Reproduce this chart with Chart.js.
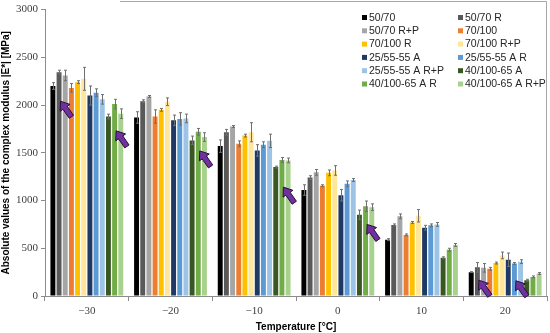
<!DOCTYPE html>
<html>
<head>
<meta charset="utf-8">
<script src="https://cdn.jsdelivr.net/npm/chart.js@4.4.0/dist/chart.umd.min.js"></script>
<style>
  html, body { margin: 0; padding: 0; background: #fff; }
  #wrap { width: 550px; height: 333px; position: relative; }
</style>
</head>
<body>
<div id="wrap"><canvas id="modulusChart" width="550" height="333"></canvas></div>
<script>
// temperatures
const temps = ['\u221230', '\u221220', '\u221210', '0', '10', '20'];

// |E*| values [MPa] per binder
const b5070 = [2200, 1870, 1570, 1110, 590, 250];
const b5070R = [2345, 2040, 1715, 1240, 745, 300];
const b5070RP = [2310, 2090, 1775, 1295, 835, 295];
const b70100 = [2180, 1880, 1595, 1155, 640, 285];
const b70100R = [2240, 1950, 1680, 1290, 770, 345];
const b70100RP = [2275, 2035, 1715, 1315, 840, 425];
const b2555A = [2100, 1840, 1525, 1055, 715, 380];
const b2555AR = [2130, 1855, 1585, 1175, 740, 340];
const b2555ARP = [2060, 1860, 1625, 1215, 750, 360];
const b40100A = [1880, 1630, 1350, 850, 400, 165];
const b40100AR = [2010, 1720, 1425, 940, 485, 200];
const b40100ARP = [1910, 1665, 1420, 930, 535, 235];

// standard deviations (error bars)
const e5070 = [35, 60, 65, 55, 10, 5];
const e5070R = [20, 15, 30, 20, 10, 50];
const e5070RP = [55, 10, 10, 30, 25, 45];
const e70100 = [45, 70, 30, 10, 10, 15];
const e70100R = [15, 15, 15, 30, 10, 10];
const e70100RP = [120, 40, 100, 50, 65, 35];
const e2555A = [100, 55, 60, 60, 25, 70];
const e2555AR = [40, 65, 30, 30, 15, 10];
const e2555ARP = [50, 45, 70, 15, 20, 20];
const e40100A = [25, 45, 10, 50, 10, 10];
const e40100AR = [50, 35, 25, 55, 15, 10];
const e40100ARP = [50, 45, 25, 35, 15, 10];

const binderNames = ['50/70', '50/70 R', '50/70 R+P', '70/100', '70/100 R', '70/100 R+P',
  '25/55-55 A', '25/55-55 A R', '25/55-55 A R+P', '40/100-65 A', '40/100-65 A R', '40/100-65 A R+P'];
const binderColors = ['#000000', '#595959', '#a5a5a5', '#ed7d31', '#ffc000', '#ffe699',
  '#203864', '#5b9bd5', '#9dc3e6', '#385723', '#70ad47', '#a9d18e'];
const binderValues = [b5070, b5070R, b5070RP, b70100, b70100R, b70100RP,
  b2555A, b2555AR, b2555ARP, b40100A, b40100AR, b40100ARP];
const binderErrors = [e5070, e5070R, e5070RP, e70100, e70100R, e70100RP,
  e2555A, e2555AR, e2555ARP, e40100A, e40100AR, e40100ARP];

// purple arrows: category index, binder index, value at the arrow tip
const arrowCat = [0, 0, 1, 2, 3, 5, 5];
const arrowSeries = [1, 10, 10, 10, 10, 1, 7];
const arrowValue = [2040, 1730, 1520, 1140, 750, 165, 160];

const sansFont = "'Liberation Sans', Arial, sans-serif";
const serifFont = "'Liberation Serif', 'Times New Roman', serif";

// error bars
const errorBars = {
    id: 'errorBars',
    afterDatasetsDraw(chart) {
        const ctx = chart.ctx;
        const y = chart.scales.y;
        ctx.save();
        ctx.strokeStyle = '#6f6f6f';
        ctx.lineWidth = 1;
        chart.data.datasets.forEach(function(ds, i) {
            const meta = chart.getDatasetMeta(i);
            meta.data.forEach(function(bar, j) {
                const v = ds.data[j], e = binderErrors[i][j];
                const x = Math.round(bar.x) + 0.5;
                const top = y.getPixelForValue(v + e), bot = y.getPixelForValue(v - e);
                ctx.beginPath();
                ctx.moveTo(x, top); ctx.lineTo(x, bot);
                ctx.moveTo(x - 1.5, top); ctx.lineTo(x + 1.5, top);
                ctx.moveTo(x - 1.5, bot); ctx.lineTo(x + 1.5, bot);
                ctx.stroke();
            });
        });
        ctx.restore();
    }
};

// arrows, frame and legend
const extras = {
    id: 'extras',
    afterDraw(chart) {
        const ctx = chart.ctx;
        const y = chart.scales.y;
        const area = chart.chartArea;
        ctx.save();

        // outer frame (top / right)
        ctx.strokeStyle = '#a6a6a6';
        ctx.lineWidth = 1;
        ctx.beginPath();
        ctx.moveTo(120, 1.5); ctx.lineTo(546.5, 1.5); ctx.lineTo(546.5, area.bottom);
        ctx.stroke();

        // arrows
        const ux = 0.57, uy = 0.82, vx = -uy, vy = ux;
        for (let k = 0; k < arrowCat.length; k++) {
            const bar = chart.getDatasetMeta(arrowSeries[k]).data[arrowCat[k]];
            const tx = bar.x + 1.5, ty = y.getPixelForValue(arrowValue[k]);
            const pts = [[0, 0], [8, 6], [8, 2.6], [19, 2.6], [19, -2.6], [8, -2.6], [8, -6]];
            ctx.beginPath();
            pts.forEach(function(p, n) {
                const px = tx + ux * p[0] + vx * p[1];
                const py = ty + uy * p[0] + vy * p[1];
                if (n === 0) ctx.moveTo(px, py); else ctx.lineTo(px, py);
            });
            ctx.closePath();
            ctx.fillStyle = '#7030a0';
            ctx.fill();
            ctx.strokeStyle = '#26103a';
            ctx.lineWidth = 1;
            ctx.stroke();
        }

        // legend, two columns
        ctx.font = '10.5px ' + sansFont;
        ctx.textBaseline = 'middle';
        binderNames.forEach(function(name, i) {
            const col = i % 2, row = Math.floor(i / 2);
            const bx = col === 0 ? 362 : 458;
            const by = 17.5 + row * 13.3;
            ctx.fillStyle = binderColors[i];
            ctx.fillRect(bx, by - 2.5, 5, 5);
            ctx.fillStyle = '#262626';
            ctx.fillText(name, bx + 7, by + 0.5);
        });
        ctx.restore();
    }
};

new Chart(document.getElementById('modulusChart'), {
    type: 'bar',
    data: {
        labels: temps,
        datasets: binderNames.map(function(name, i) {
            return {
                label: name,
                data: binderValues[i],
                backgroundColor: binderColors[i],
                borderWidth: 0,
                categoryPercentage: 0.885,
                barPercentage: 0.8
            };
        })
    },
    options: {
        responsive: false,
        animation: false,
        layout: { padding: { top: 8, right: 3, left: 0, bottom: 0 } },
        plugins: {
            legend: { display: false },
            tooltip: { enabled: false }
        },
        scales: {
            y: {
                min: 0,
                max: 3000,
                ticks: {
                    stepSize: 500,
                    color: '#404040',
                    font: { family: serifFont, size: 11 },
                    padding: 3,
                    callback: function(v) { return String(v); }
                },
                grid: { drawOnChartArea: false, drawTicks: true, tickLength: 4, color: '#8c8c8c' },
                border: { color: '#8c8c8c' },
                title: {
                    display: true,
                    text: 'Absolute values of the complex modulus |E*| [MPa]',
                    color: '#000',
                    font: { family: sansFont, size: 10, weight: 'bold' },
                    padding: { top: 0, bottom: 2 }
                },
                afterFit: function(scale) { scale.width = 45; }
            },
            x: {
                ticks: { color: '#404040', font: { family: serifFont, size: 11 }, padding: 4 },
                grid: { offset: true, drawOnChartArea: false, drawTicks: true, tickLength: 5, color: '#8c8c8c' },
                border: { color: '#8c8c8c' },
                title: {
                    display: true,
                    text: 'Temperature [\u00b0C]',
                    color: '#000',
                    font: { family: sansFont, size: 10, weight: 'bold' },
                    padding: { top: 2, bottom: 0 }
                },
                afterFit: function(scale) { scale.height = 37; }
            }
        }
    },
    plugins: [errorBars, extras]
});
</script>
</body>
</html>
